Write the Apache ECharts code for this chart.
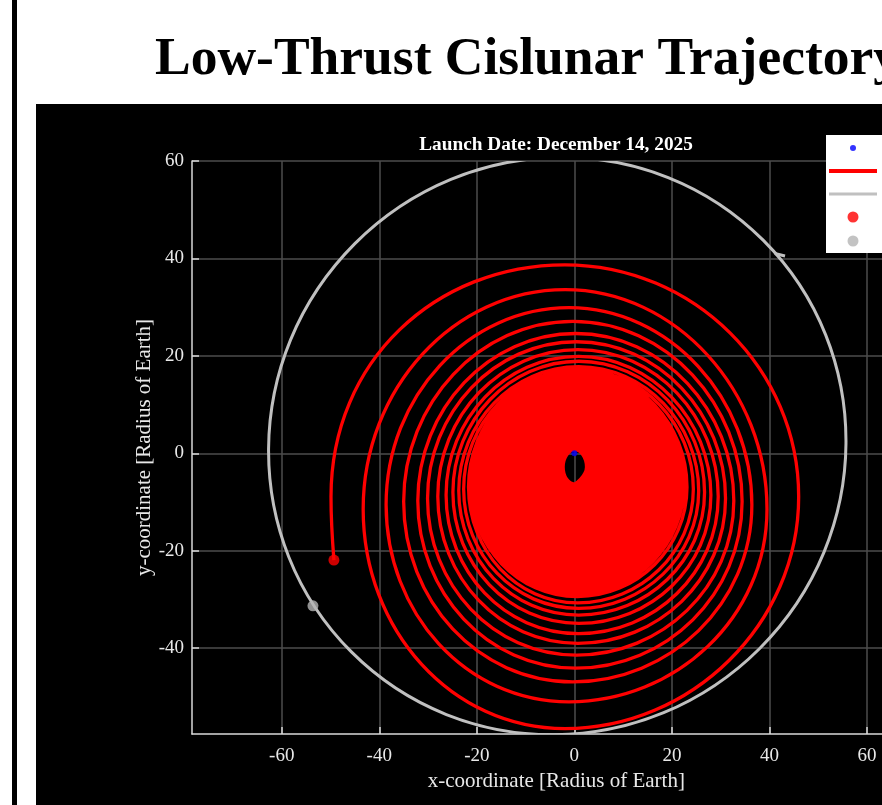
<!DOCTYPE html>
<html>
<head>
<meta charset="utf-8">
<script src="https://cdn.jsdelivr.net/npm/echarts@6/dist/echarts.min.js"></script>
<style>
  html, body { margin: 0; padding: 0; background: #fff; overflow: hidden; width: 882px; height: 805px; }
  #frame  { position: absolute; left: 12px; top: 0; width: 5px; height: 805px; background: #000; }
  #figure { position: absolute; left: 36px; top: 104px; width: 1076px; height: 701px; background: #000; }
  #chart  { position: absolute; left: 0; top: 0; width: 1112px; height: 805px; }
</style>
</head>
<body>
<div id="frame"></div>
<div id="figure"></div>
<div id="chart"></div>
<script>
// Spiral crossings per revolution, innermost first (units: Earth radii).
// Right-most x, top y, left-most x and bottom y of every loop.
const spiralRight = [
  2.50, 2.79, 3.08, 3.38, 3.68, 3.99, 4.30, 4.62, 4.95, 5.27,
  5.61, 5.95, 6.29, 6.64, 6.99, 7.35, 7.71, 8.08, 8.45, 8.83,
  9.21, 9.60, 10.00, 10.39, 10.80, 11.20, 11.62, 12.04, 12.46, 12.89,
  13.32, 13.76, 14.20, 14.65, 15.10, 15.56, 16.02, 16.49, 16.97, 17.44,
  17.93, 18.42, 18.91, 19.41, 19.91, 20.42, 20.93, 21.45, 21.97, 22.50,
  23.1, 24.4, 25.5, 26.7, 28.0, 29.5, 31.0, 32.7, 34.4, 36.4, 39.5, 46.0
];
const spiralTop = [
  0.70, 0.93, 1.16, 1.39, 1.63, 1.88, 2.13, 2.38, 2.63, 2.89,
  3.15, 3.42, 3.69, 3.97, 4.25, 4.53, 4.82, 5.11, 5.40, 5.70,
  6.00, 6.31, 6.62, 6.94, 7.25, 7.58, 7.90, 8.23, 8.57, 8.91,
  9.25, 9.59, 9.94, 10.30, 10.66, 11.02, 11.38, 11.75, 12.13, 12.51,
  12.89, 13.27, 13.66, 14.06, 14.45, 14.85, 15.26, 15.67, 16.08, 16.50,
  16.9, 17.2, 17.8, 18.9, 19.9, 21.3, 22.9, 24.6, 27.1, 29.9, 33.6, 38.7
];
const spiralLeft = [
  -2.30, -2.57, -2.85, -3.14, -3.42, -3.72, -4.01, -4.32, -4.62, -4.94,
  -5.25, -5.57, -5.90, -6.23, -6.57, -6.91, -7.25, -7.60, -7.95, -8.31,
  -8.68, -9.05, -9.42, -9.80, -10.18, -10.57, -10.96, -11.36, -11.76, -12.17,
  -12.58, -13.00, -13.42, -13.84, -14.27, -14.71, -15.15, -15.59, -16.04, -16.50,
  -16.96, -17.42, -17.89, -18.36, -18.84, -19.32, -19.81, -20.30, -20.80, -21.30,
  -21.7, -22.7, -23.7, -24.9, -26.3, -28.0, -30.1, -32.1, -35.0, -38.6, -43.3, -49.9
];
// The final revolution ends before reaching its bottom crossing.
const spiralBottom = [
  -6.30, -6.63, -6.97, -7.32, -7.67, -8.02, -8.38, -8.75, -9.12, -9.50,
  -9.89, -10.28, -10.68, -11.08, -11.49, -11.90, -12.32, -12.74, -13.18, -13.61,
  -14.05, -14.50, -14.96, -15.42, -15.88, -16.35, -16.83, -17.31, -17.80, -18.30,
  -18.80, -19.30, -19.82, -20.33, -20.86, -21.39, -21.92, -22.46, -23.01, -23.56,
  -24.12, -24.68, -25.25, -25.83, -26.41, -26.99, -27.59, -28.19, -28.79, -29.40,
  -30.7, -31.8, -33.2, -34.9, -37.0, -39.0, -41.4, -44.1, -46.9, -51.0, -56.5
];
const spacecraftEnd = [-49.3, -21.9];
const earthPos = [0, 0];
const moonPos = [-53.6, -31.3];
// Projected lunar orbit: centre x, centre y, semi-major, semi-minor, tilt of the major axis (deg)
const moonOrbit = [-3.5, 1.5, 59.7, 58.75, 45];
const moonOrbitSeam = [[41.1, 41.0], [43.2, 40.5]];
const xTicks = [-60, -40, -20, 0, 20, 40, 60];
const yTicks = [-40, -20, 0, 20, 40, 60];

// Chain the crossings into one path: right -> top -> left -> bottom per loop,
// entering the first loop from its bottom crossing.
const trajectory = [];
for (let k = 0; k < spiralRight.length; k++) {
  const hasBottom = k < spiralBottom.length;
  const bottom = hasBottom ? spiralBottom[k] : spiralBottom[k - 1];
  const cx = (spiralLeft[k] + spiralRight[k]) / 2;
  const cy = (spiralTop[k] + bottom) / 2;
  if (k === 0) trajectory.push([cx, bottom]);
  trajectory.push([spiralRight[k], cy], [cx, spiralTop[k]], [spiralLeft[k], cy]);
  if (hasBottom) trajectory.push([cx, spiralBottom[k]]);
}
trajectory.push(spacecraftEnd);

const FONT = "'Liberation Serif', 'Times New Roman', serif";
const AXIS_COLOR = '#d9d9d9';
const TEXT_COLOR = '#e8e8e8';
const GRID_COLOR = '#4d4d4d';
const RED = '#ff0000';
const ORBIT_GRAY = '#c0c0c0';

const legendText = { color: '#000', fontFamily: FONT, fontSize: 14, lineHeight: 14 };

const chart = echarts.init(document.getElementById('chart'), null, { renderer: 'canvas' });
chart.setOption({
  animation: false,
  backgroundColor: 'transparent',
  textStyle: { fontFamily: FONT },
  title: [
    {
      text: 'Low-Thrust Cislunar Trajectory',
      left: 155, top: 33, padding: 0,
      textStyle: { fontFamily: FONT, fontSize: 53.5, fontWeight: 'bold', color: '#000' }
    },
    {
      text: 'Launch Date: December 14, 2025',
      left: 'center', top: 136, padding: 0,
      textStyle: { fontFamily: FONT, fontSize: 19.3, fontWeight: 'bold', color: '#fff' }
    }
  ],
  grid: { left: 192, top: 161, width: 728.6, height: 573 },
  xAxis: {
    type: 'value', min: -78.4, max: 71,
    name: 'x-coordinate [Radius of Earth]', nameLocation: 'middle', nameGap: 37, nameMoveOverlap: false,
    nameTextStyle: { fontFamily: FONT, fontSize: 21, color: TEXT_COLOR },
    axisLine: { show: true, onZero: false, lineStyle: { color: AXIS_COLOR, width: 1.5 } },
    axisTick: { show: true, inside: true, length: 7, customValues: xTicks, lineStyle: { color: AXIS_COLOR, width: 1.5 } },
    axisLabel: { customValues: xTicks, margin: 13, fontFamily: FONT, fontSize: 19, color: TEXT_COLOR },
    splitLine: { show: true, lineStyle: { color: GRID_COLOR, width: 1.5 } }
  },
  yAxis: {
    type: 'value', min: -57.6, max: 60,
    name: 'y-coordinate [Radius of Earth]', nameLocation: 'middle', nameGap: 37, nameMoveOverlap: false,
    nameTextStyle: { fontFamily: FONT, fontSize: 21, color: TEXT_COLOR },
    axisLine: { show: true, onZero: false, lineStyle: { color: AXIS_COLOR, width: 1.5 } },
    axisTick: { show: true, inside: true, length: 7, customValues: yTicks, lineStyle: { color: AXIS_COLOR, width: 1.5 } },
    axisLabel: { customValues: yTicks, margin: 8, padding: [7, 0, 0, 0], fontFamily: FONT, fontSize: 19, color: TEXT_COLOR },
    splitLine: { show: true, lineStyle: { color: GRID_COLOR, width: 1.5 } }
  },
  graphic: [
    { type: 'rect', z: 15, shape: { x: 826, y: 135, width: 400, height: 118 }, style: { fill: '#fff' } }
  ],
  // Legend icons sit in a 48px column starting at x = 829; labels follow to the right.
  legend: [
    { data: ['Earth'], left: 850, top: 141, padding: 0, itemWidth: 48, itemHeight: 6,
      selectedMode: false, z: 20, textStyle: legendText },
    { data: [{ name: 'Spacecraft Trajectory', icon: 'rect' }], left: 829, top: 164, padding: 0, itemWidth: 48, itemHeight: 4,
      selectedMode: false, z: 20, textStyle: legendText },
    { data: [{ name: 'Moon Orbit', icon: 'rect' }], left: 829, top: 187, padding: 0, itemWidth: 48, itemHeight: 3,
      selectedMode: false, z: 20, textStyle: legendText },
    { data: ['Spacecraft', 'Moon'], orient: 'vertical', left: 847.5, top: 210, padding: 0, itemWidth: 48, itemHeight: 11,
      itemGap: 10, selectedMode: false, z: 20, textStyle: legendText }
  ],
  series: [
    {
      name: 'Spacecraft Trajectory', type: 'line', data: trajectory,
      smooth: 0.55, symbol: 'none', z: 3, color: RED,
      itemStyle: { color: RED },
      lineStyle: { color: RED, width: 3.3 }
    },
    {
      name: 'Moon Orbit', type: 'custom', data: [moonOrbit], z: 4, clip: true,
      encode: { x: 0, y: 1 },
      itemStyle: { color: ORBIT_GRAY },
      renderItem: function (params, api) {
        const c = api.coord([api.value(0), api.value(1)]);
        const s = api.size([api.value(2), api.value(3)]);
        return {
          type: 'ellipse',
          x: c[0], y: c[1],
          rotation: api.value(4) * Math.PI / 180,
          shape: { cx: 0, cy: 0, rx: s[0], ry: s[1] },
          style: { fill: 'none', stroke: ORBIT_GRAY, lineWidth: 3 }
        };
      }
    },
    {
      name: 'Moon Orbit', type: 'line', data: moonOrbitSeam, symbol: 'none', z: 4,
      lineStyle: { color: ORBIT_GRAY, width: 3 }
    },
    {
      name: 'Earth', type: 'scatter', data: [earthPos], symbolSize: 6, z: 6,
      itemStyle: { color: '#0000ff' }
    },
    {
      name: 'Spacecraft', type: 'scatter', data: [spacecraftEnd], symbolSize: 11, z: 6,
      itemStyle: { color: RED }
    },
    {
      name: 'Moon', type: 'scatter', data: [moonPos], symbolSize: 11, z: 6,
      itemStyle: { color: '#b4b4b4' }
    }
  ]
});
</script>
</body>
</html>
